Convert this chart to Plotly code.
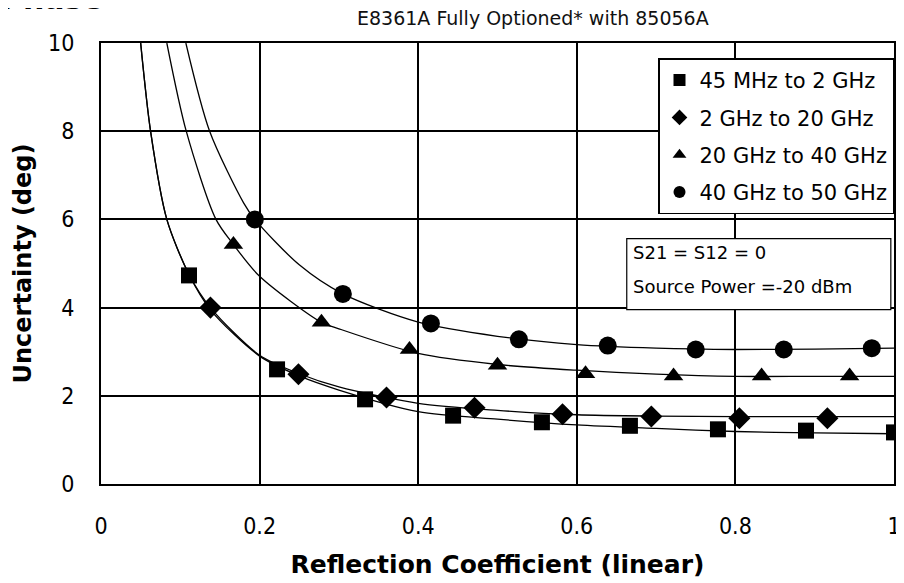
import plotly.graph_objects as go

# ---- data ----
series_names = ["45 MHz to 2 GHz", "2 GHz to 20 GHz", "20 GHz to 40 GHz", "40 GHz to 50 GHz"]

refl_sq = [0.111, 0.222, 0.333, 0.444, 0.556, 0.667, 0.778, 0.889, 1.0]
unc_sq = [4.73, 2.60, 1.92, 1.55, 1.40, 1.32, 1.24, 1.21, 1.17]

refl_dia = [0.138, 0.249, 0.360, 0.471, 0.582, 0.694, 0.805, 0.916]
unc_dia = [4.00, 2.49, 1.96, 1.73, 1.58, 1.53, 1.49, 1.49]

refl_tri = [0.167, 0.278, 0.389, 0.500, 0.611, 0.722, 0.833, 0.944]
unc_tri = [5.43, 3.67, 3.05, 2.69, 2.50, 2.45, 2.45, 2.45]

refl_cir = [0.194, 0.305, 0.416, 0.527, 0.639, 0.750, 0.861, 0.972]
unc_cir = [6.00, 4.31, 3.64, 3.28, 3.14, 3.05, 3.05, 3.08]

# trend curves
fit_sq_x = [0.050, 0.0625, 0.083, 0.111, 0.138, 0.2, 0.25, 0.3, 0.4, 0.5, 0.6, 0.7, 0.8, 0.9, 1.0]
fit_sq_y = [10.0, 8.0, 6.0, 4.75, 3.95, 2.90, 2.45, 2.13, 1.64, 1.47, 1.34, 1.26, 1.19, 1.16, 1.14]

fit_dia_x = [0.050, 0.0625, 0.083, 0.111, 0.138, 0.2, 0.25, 0.3, 0.4, 0.5, 0.6, 0.7, 0.8, 0.9, 1.0]
fit_dia_y = [10.0, 8.0, 6.0, 4.75, 4.00, 2.92, 2.50, 2.20, 1.83, 1.67, 1.57, 1.54, 1.53, 1.53, 1.53]

fit_tri_x = [0.083, 0.1075, 0.145, 0.167, 0.2, 0.2775, 0.3, 0.4, 0.5, 0.6, 0.7, 0.8, 0.9, 1.0]
fit_tri_y = [10.0, 8.0, 6.0, 5.43, 4.71, 3.67, 3.52, 2.96, 2.71, 2.58, 2.49, 2.44, 2.44, 2.44]

fit_cir_x = [0.107, 0.137, 0.180, 0.194, 0.25, 0.305, 0.4, 0.5, 0.6, 0.7, 0.8, 0.9, 1.0]
fit_cir_y = [10.0, 8.0, 6.37, 6.00, 4.97, 4.31, 3.67, 3.35, 3.16, 3.08, 3.05, 3.06, 3.08]

x_ticks = [0, 0.2, 0.4, 0.6, 0.8, 1]
x_tick_text = ["0", "0.2", "0.4", "0.6", "0.8", "1"]
y_ticks = [0, 2, 4, 6, 8, 10]
y_tick_text = ["0", "2", "4", "6", "8", "10"]

# ---- figure ----
fig = go.Figure()

fits = [(fit_sq_x, fit_sq_y), (fit_dia_x, fit_dia_y), (fit_tri_x, fit_tri_y), (fit_cir_x, fit_cir_y)]
for fx, fy in fits:
    fig.add_trace(go.Scatter(x=fx, y=fy, mode="lines", showlegend=False, hoverinfo="skip",
                             line=dict(color="black", width=1.3, shape="spline", smoothing=0.8)))

marks = [
    (refl_sq, unc_sq, "square", 16),
    (refl_dia, unc_dia, "diamond", 17),
    (refl_tri, unc_tri, "triangle-up", 17),
    (refl_cir, unc_cir, "circle", 18),
]
for i, (mx, my, sym, sz) in enumerate(marks):
    fig.add_trace(go.Scatter(x=mx, y=my, mode="markers", name=series_names[i],
                             legendgroup=f"g{i}",
                             marker=dict(symbol=sym, size=sz, color="black",
                                         line=dict(width=0))))

tick_font = dict(family="Liberation Sans Narrow, Arial Narrow, DejaVu Sans Condensed, Liberation Sans, Arial",
                 size=23, color="black")

# page has an 8px body margin, so the figure is sized/margined to compensate
fig.update_layout(
    width=888, height=575,
    margin=dict(l=93, r=2, t=35, b=99, autoexpand=False),
    paper_bgcolor="white", plot_bgcolor="white",
    showlegend=True,
    legend=dict(
        x=1.0, xanchor="right", y=0.965, yanchor="top",
        bgcolor="white", bordercolor="black", borderwidth=1.5,
        font=dict(family="DejaVu Sans", size=21, color="black"),
        itemsizing="constant", tracegroupgap=7, traceorder="grouped",
    ),
    xaxis=dict(
        range=[0, 1], tickvals=x_ticks, ticktext=x_tick_text, automargin=False,
        showgrid=True, gridcolor="black", gridwidth=1.5, zeroline=False,
        showline=True, linecolor="black", linewidth=2, mirror=True,
        ticks="", ticklabelstandoff=20, tickfont=tick_font, ticklabeloverflow="allow",
        title=dict(text="Reflection Coefficient (linear)", standoff=18,
                   font=dict(family="DejaVu Sans", size=25, color="black", weight="bold")),
    ),
    yaxis=dict(
        range=[0, 10], tickvals=y_ticks, ticktext=y_tick_text, automargin=False,
        showgrid=True, gridcolor="black", gridwidth=1.5, zeroline=False,
        showline=True, linecolor="black", linewidth=2, mirror=True,
        ticks="", ticklabelstandoff=20, tickfont=tick_font,
        title=dict(text="Uncertainty (deg)", standoff=10,
                   font=dict(family="DejaVu Sans", size=24, color="black", weight="bold")),
    ),
)

# condition box
fig.add_shape(type="rect", xref="paper", yref="paper", x0=0.663, x1=0.996, y0=0.3956, y1=0.5565,
              line=dict(color="black", width=1.2), fillcolor="white", layer="above")
box_font = dict(family="DejaVu Sans", size=18, color="black")
fig.add_annotation(text="S21 = S12 = 0", xref="paper", yref="paper", x=0.668, y=0.5247,
                   xanchor="left", yanchor="middle", showarrow=False, font=box_font)
fig.add_annotation(text="Source Power =-20 dBm", xref="paper", yref="paper", x=0.668, y=0.4476,
                   xanchor="left", yanchor="middle", showarrow=False, font=box_font)

# titles
fig.add_annotation(text="Phase", xref="paper", yref="paper", x=-0.128, y=1.056,
                   xanchor="left", yanchor="bottom", showarrow=False,
                   font=dict(family="DejaVu Sans", size=30, color="black", weight="bold"))
fig.add_annotation(text="E8361A Fully Optioned* with 85056A", xref="paper", yref="paper",
                   x=0.545, y=1.0556, xanchor="center", yanchor="middle", showarrow=False,
                   font=dict(family="DejaVu Sans", size=19, color="#111111"))

fig.write_html("out.html")
